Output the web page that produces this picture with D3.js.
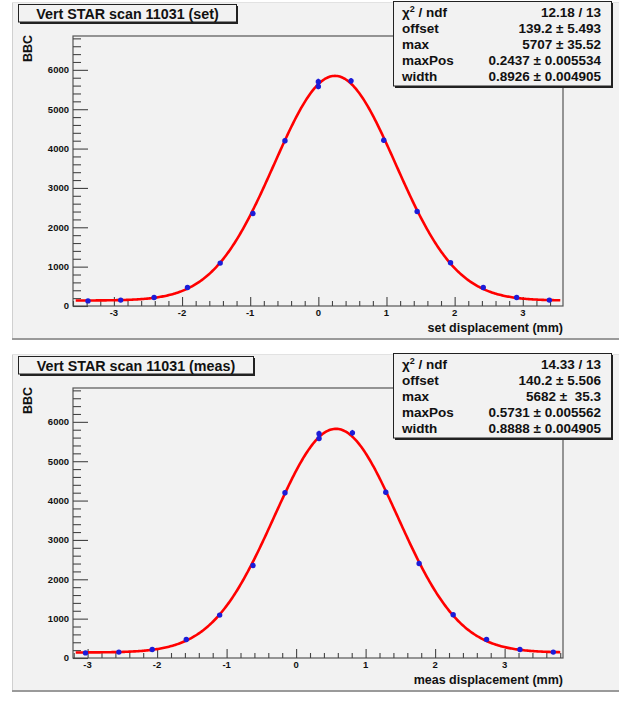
<!DOCTYPE html>
<html>
<head>
<meta charset="utf-8">
<script src="https://cdn.jsdelivr.net/npm/d3@7"></script>
<style>
  html, body { margin: 0; padding: 0; background: #ffffff; }
  svg { display: block; font-family: "Liberation Sans", Arial, Helvetica, sans-serif; }
</style>
</head>
<body>
<svg id="chart" width="619" height="702"></svg>
<script>
// Beam-position scan: BBC rate vs. displacement, with Gaussian + offset fit
const setDisplacement  = [-3.38, -2.90, -2.41, -1.92, -1.44, -0.96, -0.49, 0.00, 0.00, 0.48, 0.96, 1.45, 1.94, 2.42, 2.91, 3.39];
const measDisplacement = [-3.03, -2.55, -2.07, -1.58, -1.10, -0.62, -0.16, 0.33, 0.33, 0.81, 1.29, 1.77, 2.26, 2.74, 3.22, 3.70];
const bbcRate          = [130, 150, 215, 470, 1090, 2350, 4200, 5580, 5700, 5720, 4210, 2400, 1100, 470, 215, 150];

// Fit parameters: offset, max, maxPos, width
const setFitParams  = [139.2, 5707, 0.2437, 0.8926];
const measFitParams = [140.2, 5682, 0.5731, 0.8888];

const statNames     = ["ndf", "offset", "max", "maxPos", "width"];
const setStatValues  = ["12.18 / 13", "139.2 \u00b1 5.493", "5707 \u00b1 35.52", "0.2437 \u00b1 0.005534", "0.8926 \u00b1 0.004905"];
const measStatValues = ["14.33 / 13", "140.2 \u00b1 5.506", "5682 \u00b1  35.3", "0.5731 \u00b1 0.005562", "0.8888 \u00b1 0.004905"];

const yTicks = [0, 1000, 2000, 3000, 4000, 5000, 6000];
const xTicks = [-3, -2, -1, 0, 1, 2, 3];

const svg = d3.select("#chart");

function gaus(p, x) {
  const d = (x - p[2]) / p[3];
  return p[0] + p[1] * Math.exp(-0.5 * d * d);
}

function drawPanel(cfg) {
  const g = svg.append("g").attr("transform", `translate(0,${cfg.dy})`);

  // pad background and borders
  g.append("rect").attr("x", 12).attr("y", 2).attr("width", 620).attr("height", 338)
    .attr("fill", "#f2f2f2");
  g.append("line").attr("x1", 12.5).attr("x2", 12.5).attr("y1", 2).attr("y2", 340)
    .attr("stroke", "#d0d0d0").attr("stroke-width", 1);
  g.append("line").attr("x1", 12).attr("x2", 619).attr("y1", 2.5).attr("y2", 2.5)
    .attr("stroke", "#e2e2e2").attr("stroke-width", 1);
  g.append("line").attr("x1", 12).attr("x2", 619).attr("y1", 339).attr("y2", 339)
    .attr("stroke", "#9a9a9a").attr("stroke-width", 2);

  const fx0 = 73, fx1 = 563, fy0 = 36, fy1 = 306;
  const x = d3.scaleLinear().domain(cfg.xDomain).range([fx0, fx1]);
  const y = d3.scaleLinear().domain([0, 6860]).range([fy1, fy0]);

  // frame
  g.append("rect").attr("x", fx0).attr("y", fy0).attr("width", fx1 - fx0).attr("height", fy1 - fy0)
    .attr("fill", "none").attr("stroke", "#555").attr("stroke-width", 1.2);

  // y axis: major ticks + minor ticks every 200
  const yAxis = d3.axisRight(y).tickValues(yTicks).tickSize(15).tickFormat("");
  const yMinor = d3.axisRight(y).tickValues(d3.range(0, 6860, 200).filter(v => v % 1000 !== 0))
    .tickSize(8).tickFormat("");
  [yAxis, yMinor].forEach(ax => {
    const a = g.append("g").attr("transform", `translate(${fx0},0)`).call(ax);
    a.select(".domain").remove();
    a.selectAll("line").attr("stroke", "#444").attr("stroke-width", 1.1);
  });
  g.append("g").selectAll("text").data(yTicks).join("text")
    .attr("x", 69).attr("y", d => y(d)).attr("dy", "0.35em")
    .attr("text-anchor", "end").attr("font-size", 9.5).attr("font-weight", "bold")
    .attr("fill", "#111").text(d => d);

  // x axis: major ticks + minor ticks every 0.2
  const xAxis = d3.axisTop(x).tickValues(xTicks).tickSize(9).tickFormat("");
  const minorVals = d3.range(Math.ceil(cfg.xDomain[0] * 5), Math.floor(cfg.xDomain[1] * 5) + 1)
    .filter(k => k % 5 !== 0).map(k => k / 5);
  const xMinor = d3.axisTop(x).tickValues(minorVals).tickSize(5).tickFormat("");
  [xAxis, xMinor].forEach(ax => {
    const a = g.append("g").attr("transform", `translate(0,${fy1})`).call(ax);
    a.select(".domain").remove();
    a.selectAll("line").attr("stroke", "#444").attr("stroke-width", 1.1);
  });
  g.append("g").selectAll("text").data(xTicks).join("text")
    .attr("x", d => x(d)).attr("y", 316)
    .attr("text-anchor", "middle").attr("font-size", 9.5).attr("font-weight", "bold")
    .attr("fill", "#111").text(d => d);

  // axis titles
  g.append("text").attr("x", fx1).attr("y", 331.5).attr("text-anchor", "end")
    .attr("font-size", 12.5).attr("font-weight", "bold").attr("fill", "#111").text(cfg.xTitle);
  g.append("text").attr("transform", "translate(32,35) rotate(-90)").attr("text-anchor", "end")
    .attr("font-size", 12.5).attr("font-weight", "bold").attr("fill", "#111").text("BBC");

  // fit curve
  const clipId = "clip" + cfg.dy;
  g.append("clipPath").attr("id", clipId).append("rect")
    .attr("x", fx0).attr("y", fy0).attr("width", fx1 - fx0).attr("height", fy1 - fy0);
  const xs = d3.range(0, 401).map(i => cfg.xDomain[0] + 0.04 + (cfg.xDomain[1] - cfg.xDomain[0] - 0.08) * i / 400);
  g.append("path").datum(xs)
    .attr("clip-path", `url(#${clipId})`)
    .attr("d", d3.line().x(d => x(d)).y(d => y(gaus(cfg.fit, d))))
    .attr("fill", "none").attr("stroke", "#f00").attr("stroke-width", 2.6);

  // data points with statistical error bars
  const pts = cfg.xs.map((xv, i) => ({ x: xv, y: bbcRate[i] }));
  g.append("g").selectAll("line").data(pts).join("line")
    .attr("x1", d => x(d.x)).attr("x2", d => x(d.x))
    .attr("y1", d => y(d.y + Math.sqrt(d.y))).attr("y2", d => y(d.y - Math.sqrt(d.y)))
    .attr("stroke", "#1c1cd8").attr("stroke-width", 1.5);
  g.append("g").selectAll("circle").data(pts).join("circle")
    .attr("cx", d => x(d.x)).attr("cy", d => y(d.y)).attr("r", 2.7)
    .attr("fill", "#1c1cd8");

  // title box with shadow
  const tb = g.append("g");
  tb.append("rect").attr("x", 20).attr("y", 6).attr("width", cfg.titleW).attr("height", 18).attr("fill", "#222");
  tb.append("rect").attr("x", 18.5).attr("y", 4.5).attr("width", cfg.titleW).attr("height", 17.5)
    .attr("fill", "#f2f2f2").attr("stroke", "#222").attr("stroke-width", 1);
  tb.append("text").attr("x", 18.5 + cfg.titleW / 2).attr("y", 18.5).attr("text-anchor", "middle")
    .attr("font-size", 14.3).attr("font-weight", "bold").attr("fill", "#111").text(cfg.title);

  // statistics box with shadow
  const sb = g.append("g");
  sb.append("rect").attr("x", 395).attr("y", 3).attr("width", 218).attr("height", 85).attr("fill", "#222");
  sb.append("rect").attr("x", 393.5).attr("y", 1.5).attr("width", 218).attr("height", 84.5)
    .attr("fill", "#f2f2f2").attr("stroke", "#222").attr("stroke-width", 1);
  statNames.forEach((name, i) => {
    const by = 17 + i * 16;
    const t = sb.append("text").attr("x", 402).attr("y", by)
      .attr("font-size", 13.5).attr("font-weight", "bold").attr("fill", "#111");
    if (i === 0) {
      t.append("tspan").text("\u03c7");
      t.append("tspan").attr("font-size", 9).attr("dy", -5).text("2");
      t.append("tspan").attr("dy", 5).text(" / ndf");
    } else {
      t.text(name);
    }
    sb.append("text").attr("x", 601).attr("y", by).attr("text-anchor", "end")
      .attr("font-size", 13.5).attr("font-weight", "bold").attr("fill", "#111")
      .attr("xml:space", "preserve").style("white-space", "pre")
      .text(cfg.stats[i]);
  });
}

drawPanel({
  dy: 0, xDomain: [-3.60, 3.59], xs: setDisplacement, fit: setFitParams,
  title: "Vert STAR scan 11031 (set)", titleW: 218, stats: setStatValues,
  xTitle: "set displacement (mm)"
});
drawPanel({
  dy: 352, xDomain: [-3.21, 3.84], xs: measDisplacement, fit: measFitParams,
  title: "Vert STAR scan 11031 (meas)", titleW: 235, stats: measStatValues,
  xTitle: "meas displacement (mm)"
});
</script>
</body>
</html>
